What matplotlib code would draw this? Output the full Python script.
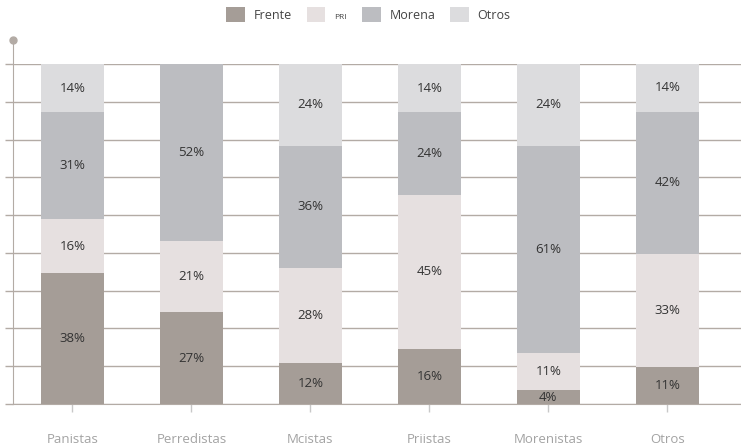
import numpy as np
import matplotlib
matplotlib.use('Agg')
from matplotlib import pyplot as plt
from matplotlib.patches import Patch

plt.rcParams['font.family'] = ['Open Sans', 'DejaVu Sans']

categories = ['Panistas', 'Perredistas', 'Mcistas', 'Priistas', 'Morenistas', 'Otros']
frente = [38, 27, 12, 16, 4, 11]
pri = [16, 21, 28, 45, 11, 33]
morena = [31, 52, 36, 24, 61, 42]
otros = [14, 0, 24, 14, 24, 14]

series = [('Frente', frente, '#a59d97'),
          ('PRI', pri, '#e6e0e0'),
          ('Morena', morena, '#bcbdc1'),
          ('Otros', otros, '#dcdcde')]

fig = plt.figure(figsize=(7.41, 4.47), dpi=100)
ax = fig.add_axes([13 / 741, 43 / 447, 1 - 13 / 741, 340 / 447])

x = np.arange(len(categories))
totals = np.sum([s[1] for s in series], axis=0).astype(float)
bottom = np.zeros(len(categories))
grid_c = '#b3aba5'

# bars are stacked to 100% of each group
for name, vals, col in series:
    vals = np.array(vals, dtype=float)
    h = vals / totals * 100
    ax.bar(x, h, 0.53, bottom=bottom, color=col, zorder=3)
    for xi, b, hv, v in zip(x, bottom, h, vals):
        if v > 0:
            ax.text(xi, b + hv / 2, f'{int(v)}%', ha='center', va='center',
                    fontsize=9.5, color='#333333', zorder=4)
    bottom += h

ax.set_xlim(-0.5, 5.62)
ax.set_ylim(0, 100)
ax.set_yticks(np.linspace(0, 100, 10))
ax.set_yticklabels([])
ax.yaxis.grid(True, color=grid_c, linewidth=1, zorder=1)
ax.tick_params(axis='y', length=6, color=grid_c, width=1)
ax.set_xticks(x)
ax.set_xticklabels(categories, fontsize=9.5, color='#a3a3a3')
ax.tick_params(axis='x', length=6, color='#c8c8c8', width=1, pad=15)

for s in ['top', 'right']:
    ax.spines[s].set_visible(False)
ax.spines['bottom'].set_color(grid_c)
ax.spines['left'].set_color(grid_c)
ax.spines['left'].set_bounds(0, 107)
ax.spines['left'].set_clip_on(False)
ax.plot([-0.5], [107], 'o', color=grid_c, markersize=5, clip_on=False, zorder=5)

handles = [Patch(facecolor=c, label=n) for n, _, c in series]
leg = fig.legend(handles=handles, loc='center', bbox_to_anchor=(0.497, 1 - 14.5 / 447),
                 ncol=4, frameon=False, fontsize=9, handlelength=1.5, handleheight=1.5,
                 columnspacing=1.2, handletextpad=0.7)
for t in leg.get_texts():
    t.set_color('#444444')
leg.get_texts()[1].set_fontsize(6)

fig.savefig('out.png', dpi=100)
